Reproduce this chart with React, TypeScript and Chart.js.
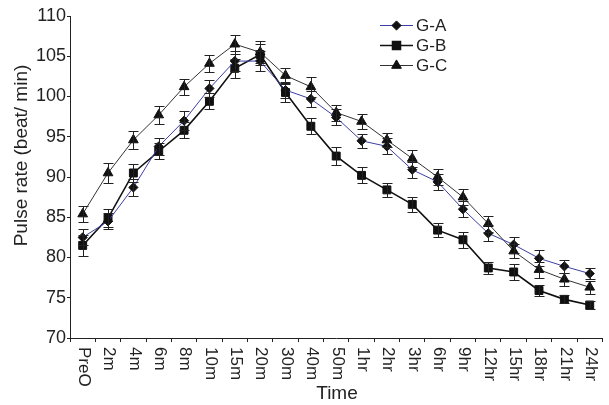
import React, { useEffect, useRef } from 'react';
import { Chart, registerables } from 'chart.js';
import { drawPoint } from 'chart.js/helpers';

Chart.register(...registerables);

const categories = ['PreO', '2m', '4m', '6m', '8m', '10m', '15m', '20m', '30m', '40m', '50m', '1hr', '2hr', '3hr', '6hr', '9hr', '12hr', '15hr', '18hr', '21hr', '24hr'];
const seriesNames = ['G-A', 'G-B', 'G-C'];

const gA = [82.5, 84.5, 88.7, 93.8, 97.0, 101.0, 104.4, 104.4, 100.8, 99.7, 97.4, 94.5, 93.8, 90.9, 89.4, 86.0, 83.0, 81.6, 79.9, 78.9, 78.0];
const gB = [81.5, 84.9, 90.5, 93.2, 95.8, 99.4, 103.5, 105.2, 100.5, 96.3, 92.6, 90.2, 88.4, 86.6, 83.4, 82.2, 78.7, 78.2, 75.9, 74.8, 74.1];
const gC = [85.4, 90.5, 94.6, 97.7, 101.2, 104.1, 106.5, 105.5, 102.6, 101.2, 98.0, 96.9, 94.6, 92.3, 90.0, 87.5, 84.2, 80.8, 78.5, 77.3, 76.3];

const errA = [1.0, 1.0, 1.1, 1.1, 1.2, 1.1, 1.2, 1.2, 1.0, 1.0, 1.0, 0.9, 1.0, 1.0, 1.0, 1.0, 1.0, 1.0, 1.0, 0.8, 0.7];
const errB = [1.3, 1.1, 1.1, 1.0, 1.0, 1.0, 1.2, 1.3, 1.2, 1.0, 1.1, 1.0, 0.9, 0.9, 0.9, 1.0, 0.7, 1.0, 0.7, 0.5, 0.5];
const errC = [1.0, 1.2, 1.1, 1.1, 1.0, 1.1, 1.2, 1.35, 1.0, 1.25, 1.0, 0.9, 0.9, 1.1, 1.0, 1.0, 1.0, 0.9, 1.0, 0.8, 0.8];

const yMin = 70;
const yMax = 110;
const yStep = 5;

const FONT = "'Liberation Sans', Arial, Helvetica, sans-serif";
const INK = '#222';

const seriesValues = [gA, gB, gC];
const seriesErrors = [errA, errB, errC];
const seriesLineColors = ['#3b3fa3', '#111111', '#333333'];
const seriesLineWidths = [1, 1.6, 1];
const seriesPointStyles = ['rectRot', 'rect', 'triangle'];
const seriesPointRadius = [4.6, 5.6, 5.6];

const errorBarsPlugin = {
  id: 'errorBars',
  afterDatasetsDraw(chart: any) {
    const ctx = chart.ctx;
    const y = chart.scales.y;
    chart.data.datasets.forEach((ds: any, di: number) => {
      const meta = chart.getDatasetMeta(di);
      const errs: number[] = ds.errors || [];
      meta.data.forEach((pt: any, i: number) => {
        const v = ds.data[i];
        const e = errs[i];
        if (v == null || e == null) return;
        const top = Math.round(y.getPixelForValue(v + e)) + 0.5;
        const bot = Math.round(y.getPixelForValue(v - e)) + 0.5;
        const x = Math.round(pt.x) + 0.5;
        ctx.save();
        ctx.strokeStyle = INK;
        ctx.lineWidth = 1;
        ctx.beginPath();
        ctx.moveTo(x, top);
        ctx.lineTo(x, bot);
        ctx.moveTo(x - 5, top);
        ctx.lineTo(x + 5, top);
        ctx.moveTo(x - 5, bot);
        ctx.lineTo(x + 5, bot);
        ctx.stroke();
        ctx.restore();
      });
    });
  },
};

const textPlugin = {
  id: 'customText',
  afterDraw(chart: any) {
    const ctx = chart.ctx;
    const xScale = chart.scales.x;
    const area = chart.chartArea;
    ctx.save();
    ctx.fillStyle = INK;
    // x tick labels, rotated clockwise
    ctx.font = `17px ${FONT}`;
    categories.forEach((lab, i) => {
      const x = xScale.getPixelForValue(i);
      ctx.save();
      ctx.translate(x + 1, area.bottom + 9);
      ctx.rotate(Math.PI / 2);
      ctx.textAlign = 'left';
      ctx.textBaseline = 'middle';
      ctx.fillText(lab, 0, 0);
      ctx.restore();
    });
    // x title
    ctx.font = `19px ${FONT}`;
    ctx.textAlign = 'center';
    ctx.textBaseline = 'alphabetic';
    ctx.fillText('Time', 337, 399);
    // y title
    ctx.save();
    ctx.translate(27, 155.5);
    ctx.rotate(-Math.PI / 2);
    ctx.textAlign = 'center';
    ctx.textBaseline = 'alphabetic';
    ctx.fillText('Pulse rate (beat/ min)', 0, 0);
    ctx.restore();
    // legend
    const rowsY = [25.5, 45.5, 65.5];
    seriesNames.forEach((name, i) => {
      const yy = rowsY[i];
      ctx.save();
      ctx.strokeStyle = seriesLineColors[i];
      ctx.lineWidth = seriesLineWidths[i];
      ctx.beginPath();
      ctx.moveTo(380, yy);
      ctx.lineTo(413, yy);
      ctx.stroke();
      ctx.fillStyle = '#111';
      ctx.strokeStyle = '#111';
      drawPoint(ctx, { pointStyle: seriesPointStyles[i] as any, radius: seriesPointRadius[i], rotation: 0, borderWidth: 1 } as any, 396.5, yy);
      ctx.restore();
      ctx.font = `17px ${FONT}`;
      ctx.textAlign = 'left';
      ctx.textBaseline = 'middle';
      ctx.fillStyle = INK;
      ctx.fillText(name, 416, yy + 1);
    });
    ctx.restore();
  },
};

export default function App() {
  const canvasRef = useRef<HTMLCanvasElement | null>(null);

  useEffect(() => {
    document.body.style.margin = '0';
    const canvas = canvasRef.current;
    if (!canvas) return;
    const chart = new Chart(canvas, {
      type: 'line',
      data: {
        labels: categories,
        datasets: seriesNames.map((name, i) => ({
          label: name,
          data: seriesValues[i],
          errors: seriesErrors[i],
          borderColor: seriesLineColors[i],
          borderWidth: seriesLineWidths[i],
          pointStyle: seriesPointStyles[i],
          pointRadius: seriesPointRadius[i],
          pointBackgroundColor: '#111',
          pointBorderColor: '#111',
          pointBorderWidth: 1,
          fill: false,
          tension: 0,
        })) as any,
      },
      options: {
        responsive: false,
        animation: false,
        devicePixelRatio: 1,
        layout: { padding: { top: 16, right: -2.5, left: 0, bottom: 0 } },
        plugins: {
          legend: { display: false },
          tooltip: { enabled: false },
          title: { display: false },
        },
        scales: {
          x: {
            type: 'category',
            offset: true,
            grid: { display: true, offset: true, drawOnChartArea: false, drawTicks: true, tickLength: 4, color: INK, lineWidth: 1 },
            border: { display: true, color: INK, width: 1 },
            ticks: { display: false },
            afterFit(scale: any) {
              scale.height = 67;
            },
          },
          y: {
            min: yMin,
            max: yMax,
            grid: { display: true, drawOnChartArea: false, drawTicks: true, tickLength: 3, color: INK, lineWidth: 1 },
            border: { display: true, color: INK, width: 1 },
            ticks: {
              stepSize: yStep,
              color: INK,
              padding: 1,
              font: { family: FONT, size: 18 },
            },
            afterFit(scale: any) {
              scale.width = 70;
            },
          },
        },
      } as any,
      plugins: [errorBarsPlugin, textPlugin],
    });
    return () => chart.destroy();
  }, []);

  return (
    <div style={{ width: 609, height: 405, position: 'relative', background: '#fff' }}>
      <canvas ref={canvasRef} width={609} height={405} />
    </div>
  );
}
